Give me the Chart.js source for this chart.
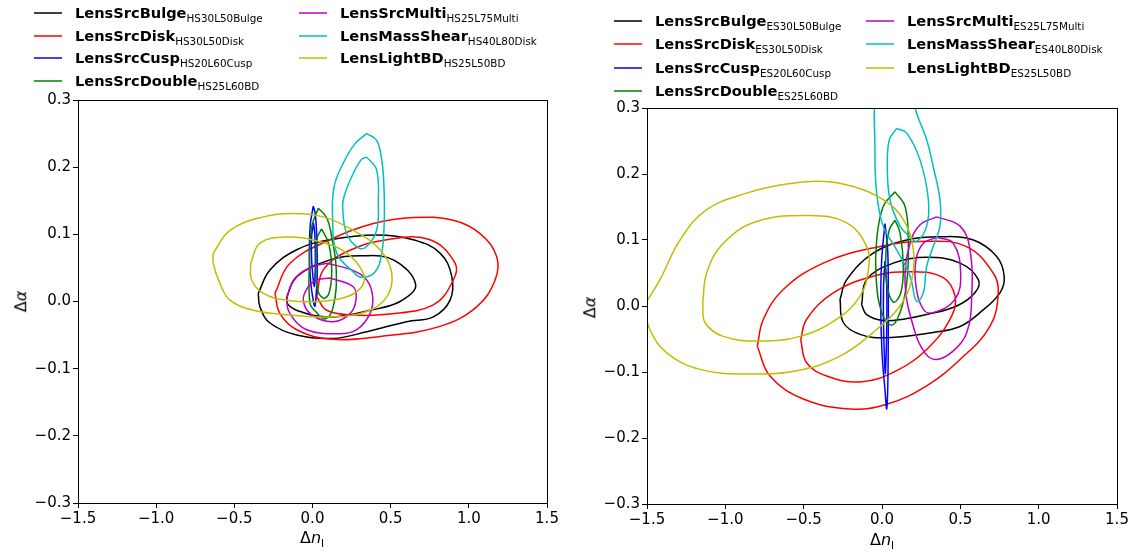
<!DOCTYPE html>
<html>
<head>
<meta charset="utf-8">
<title>Delta n / Delta alpha contours</title>
<script src="https://cdn.jsdelivr.net/npm/chart.js@4.4.0/dist/chart.umd.min.js"></script>
<style>
  body { margin: 0; background: #fff; font-family: "DejaVu Sans", sans-serif; }
  #wrap { position: relative; width: 1133px; height: 553px; overflow: hidden; }
  canvas { position: absolute; top: 0; }
  .leg { position: absolute; height: 18px; line-height: 18px; white-space: nowrap; color: #000; }
  .leg svg { position: absolute; left: 0; top: 6px; }
  .leg .name { position: absolute; left: 41px; top: 0; font-weight: bold; font-size: 14.6px; }
  .leg .tag { font-weight: normal; font-size: 10.4px; position: relative; top: 4px; }
  .axt { position: absolute; font-size: 16px; color: #000; white-space: nowrap; }
  .axt sub { font-size: 11px; vertical-align: baseline; position: relative; top: 4px; }
</style>
</head>
<body>
<div id="wrap">
  <canvas id="hsChart" width="566" height="553" style="left:0px"></canvas>
  <canvas id="esChart" width="567" height="553" style="left:566px"></canvas>
</div>
<script>
// legend names, tags and colours (same order as the datasets)
const seriesNames = ['LensSrcBulge', 'LensSrcDisk', 'LensSrcCusp', 'LensSrcDouble', 'LensSrcMulti', 'LensMassShear', 'LensLightBD'];
const hsTags = ['HS30L50Bulge', 'HS30L50Disk', 'HS20L60Cusp', 'HS25L60BD', 'HS25L75Multi', 'HS40L80Disk', 'HS25L50BD'];
const esTags = ['ES30L50Bulge', 'ES30L50Disk', 'ES20L60Cusp', 'ES25L60BD', 'ES25L75Multi', 'ES40L80Disk', 'ES25L50BD'];
const seriesColors = ['#000000', '#ff0000', '#0000ff', '#008000', '#bf00bf', '#00bfbf', '#bfbf00'];

const xTickValues = [-1.5, -1.0, -0.5, 0.0, 0.5, 1.0, 1.5];
const yTickValues = [-0.3, -0.2, -0.1, 0.0, 0.1, 0.2, 0.3];

// ---- HS panel contours, [dn, dalpha] ----
const hsBulgeOuter = [[-0.347,0.012],[-0.272,0.047],[-0.101,0.077],[0.112,0.092],[0.41,0.099],[0.645,0.092],[0.816,0.072],[0.891,0.037],[0.88,0.002],[0.773,-0.023],[0.603,-0.030],[0.347,-0.045],[0.133,-0.055],[-0.101,-0.050],[-0.272,-0.032],[-0.336,-0.008]];
const hsBulgeInner = [[-0.165,0.007],[-0.101,0.037],[0.112,0.062],[0.304,0.068],[0.517,0.062],[0.66,0.025],[0.56,0.0],[0.368,-0.013],[0.112,-0.023],[-0.08,-0.015],[-0.155,-0.005]];
const hsDiskOuter = [[-0.24,0.012],[-0.144,0.057],[0.112,0.092],[0.389,0.116],[0.645,0.125],[0.901,0.121],[1.072,0.101],[1.178,0.067],[1.168,0.032],[1.05,-0.008],[0.816,-0.037],[0.432,-0.052],[0.112,-0.056],[-0.101,-0.042],[-0.208,-0.018]];
const hsDiskInner = [[0.027,0.007],[0.069,0.047],[0.219,0.074],[0.475,0.092],[0.752,0.092],[0.912,0.057],[0.901,0.032],[0.773,-0.005],[0.475,-0.019],[0.261,-0.020],[0.091,-0.013]];
const hsCuspOuter = [[0.005,0.142],[0.018,0.13],[0.028,0.09],[0.03,0.04],[0.022,0.005],[0.015,-0.007],[0.006,0.0],[-0.012,0.03],[-0.02,0.07],[-0.014,0.115]];
const hsCuspInner = [[0.006,0.117],[0.015,0.10],[0.018,0.06],[0.015,0.03],[0.012,0.022],[0.006,0.03],[-0.005,0.06],[-0.006,0.095]];
const hsDoubleOuter = [[0.037,0.139],[0.09,0.125],[0.123,0.096],[0.152,0.047],[0.133,-0.008],[0.08,-0.026],[0.02,-0.015],[-0.016,-0.003],[-0.02,0.057],[-0.005,0.111]];
const hsDoubleInner = [[0.059,0.108],[0.105,0.085],[0.123,0.045],[0.105,0.012],[0.069,0.005],[0.03,0.02],[0.022,0.06],[0.03,0.095]];
const hsMultiOuter = [[0.091,0.057],[0.25,0.047],[0.347,0.032],[0.385,0.007],[0.368,-0.018],[0.283,-0.042],[0.176,-0.048],[-0.037,-0.042],[-0.144,-0.018],[-0.161,0.007],[-0.101,0.037],[0.005,0.052]];
const hsMultiInner = [[0.112,0.035],[0.261,0.022],[0.278,0.002],[0.24,-0.018],[0.133,-0.030],[-0.005,-0.020],[-0.059,0.002],[-0.027,0.022],[0.027,0.032]];
const hsShearOuter = [[0.347,0.250],[0.41,0.240],[0.443,0.211],[0.457,0.171],[0.459,0.121],[0.443,0.072],[0.40,0.044],[0.315,0.036],[0.261,0.044],[0.155,0.072],[0.129,0.121],[0.138,0.171],[0.197,0.206],[0.272,0.235]];
const hsShearInner = [[0.347,0.215],[0.41,0.196],[0.421,0.146],[0.41,0.106],[0.347,0.082],[0.293,0.080],[0.219,0.101],[0.193,0.141],[0.208,0.161],[0.261,0.191],[0.315,0.212]];
const hsLightOuter = [[-0.635,0.072],[-0.528,0.106],[-0.315,0.126],[-0.123,0.131],[0.069,0.126],[0.261,0.106],[0.432,0.077],[0.507,0.042],[0.475,0.007],[0.347,-0.015],[0.112,-0.023],[-0.144,-0.020],[-0.379,-0.013],[-0.528,0.002],[-0.592,0.027],[-0.635,0.057]];
const hsLightInner = [[-0.396,0.057],[-0.336,0.087],[-0.165,0.096],[0.048,0.089],[0.219,0.072],[0.325,0.042],[0.315,0.022],[0.219,0.007],[0.048,0.0],[-0.165,0.002],[-0.315,0.012],[-0.389,0.032]];

// ---- ES panel contours ----
const esBulgeOuter = [[-0.268,0.010],[-0.225,0.040],[-0.056,0.080],[0.158,0.100],[0.37,0.105],[0.583,0.100],[0.732,0.075],[0.78,0.045],[0.753,0.020],[0.625,-0.010],[0.498,-0.031],[0.327,-0.040],[0.030,-0.048],[-0.14,-0.043],[-0.247,-0.025]];
const esBulgeInner = [[-0.13,0.002],[-0.098,0.040],[0.072,0.065],[0.285,0.074],[0.498,0.065],[0.615,0.040],[0.593,0.020],[0.477,0.0],[0.285,-0.013],[0.136,-0.020],[0.008,-0.022],[-0.098,-0.013]];
const esDiskOuter = [[-0.796,-0.061],[-0.757,-0.020],[-0.63,0.025],[-0.375,0.065],[-0.056,0.088],[0.285,0.098],[0.54,0.090],[0.71,0.050],[0.742,0.020],[0.689,-0.031],[0.498,-0.081],[0.285,-0.121],[0.03,-0.149],[-0.204,-0.156],[-0.502,-0.141],[-0.715,-0.106]];
const esDiskInner = [[-0.519,-0.051],[-0.481,-0.020],[-0.311,0.020],[-0.056,0.045],[0.2,0.052],[0.391,0.043],[0.466,0.015],[0.445,-0.015],[0.306,-0.061],[0.094,-0.098],[-0.14,-0.115],[-0.353,-0.106],[-0.481,-0.086]];
const esCuspOuter = [[0.019,0.125],[0.035,0.09],[0.04,0.04],[0.04,-0.05],[0.037,-0.12],[0.03,-0.156],[0.02,-0.13],[0.0,-0.07],[-0.008,0.0],[-0.002,0.07]];
const esCuspInner = [[0.019,0.068],[0.03,0.03],[0.03,-0.04],[0.024,-0.09],[0.021,-0.102],[0.016,-0.08],[0.01,-0.03],[0.01,0.03]];
const esDoubleOuter = [[0.083,0.173],[0.147,0.151],[0.168,0.100],[0.158,0.035],[0.115,-0.010],[0.062,-0.029],[-0.002,-0.010],[-0.038,0.045],[-0.034,0.100],[0.008,0.151]];
const esDoubleInner = [[0.083,0.130],[0.115,0.111],[0.136,0.060],[0.12,0.02],[0.072,0.006],[0.03,0.035],[0.026,0.085],[0.047,0.116]];
const esMultiOuter = [[0.349,0.135],[0.498,0.121],[0.562,0.085],[0.572,0.010],[0.541,-0.040],[0.455,-0.068],[0.349,-0.081],[0.274,-0.071],[0.2,-0.031],[0.147,0.035],[0.179,0.095],[0.243,0.123]];
const esMultiInner = [[0.349,0.104],[0.455,0.095],[0.502,0.050],[0.466,0.010],[0.327,-0.010],[0.264,-0.005],[0.217,0.030],[0.217,0.070],[0.264,0.095]];
// runs past the top of the axes, gets clipped there
const esShearOuter = [[0.08,0.37],[-0.03,0.33],[-0.045,0.236],[-0.034,0.171],[0.008,0.121],[0.094,0.085],[0.179,0.045],[0.221,0.007],[0.264,0.020],[0.285,0.060],[0.327,0.090],[0.37,0.121],[0.37,0.161],[0.327,0.211],[0.285,0.252],[0.221,0.292],[0.18,0.33]];
const esShearInner = [[0.094,0.269],[0.158,0.262],[0.243,0.221],[0.296,0.161],[0.285,0.121],[0.221,0.098],[0.179,0.105],[0.115,0.121],[0.051,0.161],[0.034,0.211],[0.047,0.252]];
const esLightOuter = [[-1.52,0.0],[-1.417,0.040],[-1.289,0.1],[-1.119,0.146],[-0.863,0.171],[-0.63,0.184],[-0.396,0.189],[-0.183,0.181],[0.008,0.161],[0.136,0.131],[0.2,0.085],[0.19,0.04],[0.115,0.0],[-0.056,-0.040],[-0.268,-0.076],[-0.544,-0.098],[-0.863,-0.103],[-1.161,-0.096],[-1.374,-0.071],[-1.481,-0.036]];
const esLightInner = [[-1.144,0.005],[-1.119,0.050],[-1.013,0.095],[-0.8,0.128],[-0.46,0.137],[-0.225,0.126],[-0.098,0.090],[-0.087,0.055],[-0.14,0.015],[-0.289,-0.020],[-0.523,-0.046],[-0.779,-0.053],[-1.013,-0.046],[-1.13,-0.025]];

const hsContours = [
  [hsBulgeOuter, hsBulgeInner], [hsDiskOuter, hsDiskInner], [hsCuspOuter, hsCuspInner],
  [hsDoubleOuter, hsDoubleInner], [hsMultiOuter, hsMultiInner], [hsShearOuter, hsShearInner],
  [hsLightOuter, hsLightInner]
];
const esContours = [
  [esBulgeOuter, esBulgeInner], [esDiskOuter, esDiskInner], [esCuspOuter, esCuspInner],
  [esDoubleOuter, esDoubleInner], [esMultiOuter, esMultiInner], [esShearOuter, esShearInner],
  [esLightOuter, esLightInner]
];

function closeLoop(points) {
  return points.concat([points[0]]).map(p => ({ x: p[0], y: p[1] }));
}

function formatTick(v) {
  return v.toFixed(1).replace('-', '\u2212');
}

function buildDatasets(contours) {
  const sets = [];
  contours.forEach((pair, i) => {
    pair.forEach((pts) => {
      sets.push({
        data: closeLoop(pts),
        showLine: true,
        borderColor: seriesColors[i],
        borderWidth: 1.5,
        pointRadius: 0,
        tension: 0.4,
        fill: false,
        order: -sets.length // later series sit on top
      });
    });
  });
  return sets;
}

// full box around the axes
const frameBox = {
  id: 'frameBox',
  afterDraw(chart) {
    const { ctx, chartArea } = chart;
    ctx.save();
    ctx.strokeStyle = '#000';
    ctx.lineWidth = 1;
    ctx.strokeRect(Math.round(chartArea.left) + 0.5, Math.round(chartArea.top) + 0.5,
      Math.round(chartArea.right - chartArea.left), Math.round(chartArea.bottom - chartArea.top));
    ctx.restore();
  }
};

function axisOpts(tickValues, fitFn) {
  return {
    type: 'linear',
    min: tickValues[0],
    max: tickValues[tickValues.length - 1],
    afterBuildTicks: (scale) => { scale.ticks = tickValues.map(v => ({ value: v })); },
    afterFit: fitFn,
    ticks: {
      color: '#000',
      font: { family: 'DejaVu Sans', size: 15 },
      padding: 2,
      maxRotation: 0,
      autoSkip: false,
      callback: (v) => formatTick(v)
    },
    grid: { drawOnChartArea: false, drawTicks: true, tickLength: 5, color: '#000', lineWidth: 1 },
    border: { display: true, color: '#000', width: 1 }
  };
}

function makePanel(canvasId, contours, pad, yAxisWidth, xAxisHeight) {
  return new Chart(document.getElementById(canvasId), {
    type: 'scatter',
    data: { datasets: buildDatasets(contours) },
    options: {
      responsive: false,
      animation: false,
      layout: { padding: pad },
      plugins: { legend: { display: false }, tooltip: { enabled: false } },
      scales: {
        x: axisOpts(xTickValues, (s) => { s.height = xAxisHeight; }),
        y: axisOpts(yTickValues, (s) => { s.width = yAxisWidth; })
      }
    },
    plugins: [frameBox]
  });
}

function addLegend(left, top, tags, colStep, rowStep) {
  const wrap = document.getElementById('wrap');
  seriesNames.forEach((name, i) => {
    const col = i < 4 ? 0 : 1;
    const row = i < 4 ? i : i - 4;
    const el = document.createElement('div');
    el.className = 'leg';
    el.style.left = Math.round(left + col * colStep) + 'px';
    el.style.top = Math.round(top + row * rowStep - 9) + 'px';
    el.innerHTML = '<svg width="28" height="6"><line x1="0" y1="3" x2="28" y2="3" stroke="' +
      seriesColors[i] + '" stroke-width="1.5"/></svg>' +
      '<span class="name">' + name + '<span class="tag">' + tags[i] + '</span></span>';
    wrap.appendChild(el);
  });
}

function addAxisTitles(xCenter, xTop, yCenterX, yCenterY) {
  const wrap = document.getElementById('wrap');
  const xt = document.createElement('div');
  xt.className = 'axt';
  xt.innerHTML = '\u0394<i>n</i><sub>l</sub>';
  wrap.appendChild(xt);
  xt.style.left = (xCenter - xt.offsetWidth / 2) + 'px';
  xt.style.top = xTop + 'px';

  const yt = document.createElement('div');
  yt.className = 'axt';
  yt.innerHTML = '\u0394<i>\u03b1</i>';
  wrap.appendChild(yt);
  const w = yt.offsetWidth, h = yt.offsetHeight;
  yt.style.left = (yCenterX - w / 2) + 'px';
  yt.style.top = (yCenterY - h / 2) + 'px';
  yt.style.transform = 'rotate(-90deg)';
}

const hsChart = makePanel('hsChart', hsContours, { top: 100, right: 19, left: 0, bottom: 0 }, 78, 50);
const esChart = makePanel('esChart', esContours, { top: 108, right: 16, left: 0, bottom: 0 }, 81, 49);
console.log('areas', hsChart.chartArea, esChart.chartArea);

addLegend(34, 13, hsTags, 265, 22.7);
addLegend(614, 20.5, esTags, 252, 23.5);
addAxisTitles(312, 528, 21, 301);
addAxisTitles(882, 530, 590, 307);
</script>
</body>
</html>
